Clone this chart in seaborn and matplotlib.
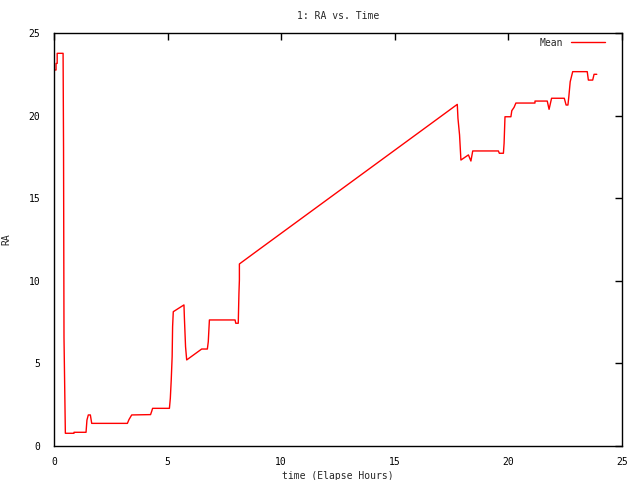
import matplotlib
matplotlib.use("Agg")
import matplotlib.pyplot as plt
import seaborn as sns
import pandas as pd

title = "1: RA vs. Time"
xlabel = "time (Elapse Hours)"
ylabel = "RA"
series_name = "Mean"

hours = [0.00, 0.09, 0.09, 0.14, 0.14, 0.38, 0.40, 0.42, 0.44, 0.50,
         0.88, 0.88, 1.41, 1.45, 1.51, 1.60, 1.66, 3.23, 3.30, 3.42,
         4.25, 4.30, 4.34, 5.08, 5.12, 5.16, 5.20, 5.22, 5.25, 5.72,
         5.74, 5.79, 5.84, 6.50, 6.75, 6.79, 6.84, 7.97, 8.00, 8.11,
         8.14, 8.16, 8.16, 8.99, 16.55, 17.75, 17.78, 17.85, 17.91, 18.24,
         18.35, 18.43, 19.56, 19.60, 19.78, 19.81, 19.85, 20.11, 20.15, 20.25,
         20.33, 21.17, 21.17, 21.71, 21.79, 21.90, 22.46, 22.54, 22.62, 22.66,
         22.72, 22.83, 23.47, 23.52, 23.71, 23.77, 23.89]
ra = [22.76, 22.76, 23.16, 23.16, 23.77, 23.77, 23.77, 18.06, 6.56, 0.77,
      0.77, 0.83, 0.83, 1.57, 1.88, 1.88, 1.37, 1.37, 1.60, 1.88,
      1.90, 2.10, 2.28, 2.28, 2.89, 4.00, 5.41, 7.22, 8.13, 8.54,
      7.73, 6.01, 5.21, 5.87, 5.87, 6.31, 7.63, 7.63, 7.43, 7.43,
      9.24, 10.05, 11.02, 11.86, 19.47, 20.68, 19.83, 18.83, 17.31, 17.62,
      17.25, 17.86, 17.86, 17.72, 17.72, 18.32, 19.93, 19.93, 20.30, 20.50,
      20.76, 20.76, 20.88, 20.88, 20.38, 21.05, 21.05, 20.64, 20.64, 21.15,
      22.05, 22.66, 22.66, 22.15, 22.15, 22.50, 22.50]

xticks = [0, 5, 10, 15, 20, 25]
yticks = [0, 5, 10, 15, 20, 25]

df = pd.DataFrame({"hours": hours, "ra": ra})

sns.set_style("white")
plt.rcParams["font.family"] = ["DejaVu Sans Mono"]

fig = plt.figure(figsize=(6.4, 4.8), dpi=100)
ax = fig.add_axes([54/640, 34/480, (622-54)/640, (446-33)/480])
sns.lineplot(data=df, x="hours", y="ra", estimator=None, sort=False,
             color="#ff0000", lw=1.0, label=series_name, ax=ax)

ax.set_xlim(0, 25)
ax.set_ylim(0, 25)
ax.set_xticks(xticks)
ax.set_yticks(yticks)
ax.set_xticklabels([str(t) for t in xticks], fontsize=7)
ax.set_yticklabels([str(t) for t in yticks], fontsize=7)
ax.tick_params(axis="both", direction="in", length=5, width=1, top=True,
               right=True, colors="black")
ax.tick_params(axis="x", pad=8)
ax.tick_params(axis="y", pad=10)
for s in ax.spines.values():
    s.set_color("black")
    s.set_linewidth(1)
ax.set_xlabel(xlabel, fontsize=7, labelpad=3)
ax.set_ylabel(ylabel, fontsize=7, labelpad=12)
ax.set_title(title, fontsize=7, pad=10)
leg = ax.legend(loc="upper right", frameon=False, fontsize=7,
                handlelength=3.5, markerfirst=False,
                bbox_to_anchor=(0.985, 1.01))
fig.savefig("out.png", dpi=100)
